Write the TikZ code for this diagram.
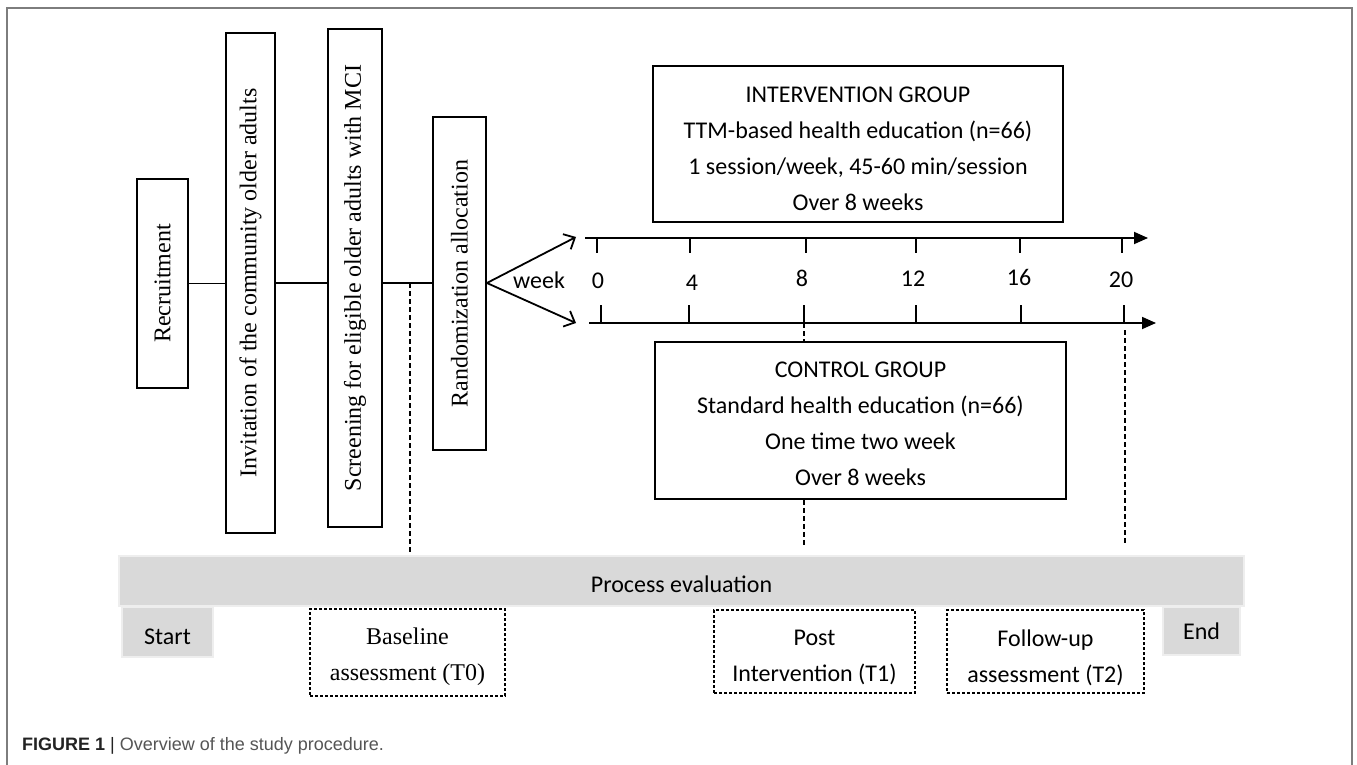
\documentclass[tikz,border=0pt]{standalone}
\usepackage{fontspec}
\setmainfont{Liberation Serif}
\newfontfamily\calib{Carlito}
\newfontfamily\capsans{Liberation Sans}
\usetikzlibrary{arrows.meta}
\definecolor{procgray}{RGB}{217,217,217}
\definecolor{procedge}{RGB}{238,238,238}
\definecolor{framegray}{RGB}{125,125,125}
\definecolor{capgray}{RGB}{85,85,85}
\definecolor{capdark}{RGB}{35,35,35}
\newcommand{\fsz}{\fontsize{24}{36}\selectfont}
\newcommand{\pushdn}[1]{\rule{0pt}{#1}}
\begin{document}
\begin{tikzpicture}[x=1pt,y=-1pt,
  vbox/.style={draw, line width=1.8pt, inner sep=0pt, font=\fsz},
  gbox/.style={draw, line width=1.6pt, inner sep=0pt, align=center, font=\calib\fsz},
  conn/.style={line width=1.8pt},
  tickline/.style={line width=1.6pt},
  tline/.style={line width=1.8pt, -{Triangle[length=14pt,width=12pt]}},
  barb/.style={line width=1.8pt, -{Straight Barb[length=9pt,width=17pt]}},
  dline/.style={line width=1.4pt, dash pattern=on 5pt off 3pt},
  lab/.style={font=\calib\fsz, inner sep=0pt, anchor=base},
  grey/.style={fill=procgray, draw=procedge, line width=1.5pt, inner sep=0pt, font=\calib\fsz, align=center},
  abox/.style={draw, line width=1.2pt, dash pattern=on 3pt off 2pt, inner sep=0pt, align=center, font=\fsz},
]
\useasboundingbox (0,0) rectangle (1357,765);
\draw[framegray, line width=1.5pt] (7,765) -- (7,8) -- (1352,8) -- (1352,765);

% vertical boxes
\node[vbox, minimum width=51, minimum height=209] (rec) at (162.5,283.5) {\rotatebox{90}{Recruitment}};
\node[vbox, minimum width=49, minimum height=500] (inv) at (250.5,283) {\rotatebox{90}{Invitation of the community older adults}};
\node[vbox, minimum width=54, minimum height=498] (scr) at (355,278) {\rotatebox{90}{Screening for eligible older adults with MCI}};
\node[vbox, minimum width=53, minimum height=333] (ran) at (459.5,283.5) {\rotatebox{90}{Randomization allocation}};

\draw[conn] (rec.east) -- (inv.west |- rec.east);
\draw[conn] (inv.east) -- (scr.west |- inv.east);
\draw[conn] (scr.east |- inv.east) -- (ran.west |- inv.east);

% split arrows
\coordinate (up) at (576,237);
\coordinate (dn) at (576,323);
\draw[barb] (ran.east |- inv.east) -- (up);
\draw[barb] (ran.east |- inv.east) -- (dn);
\node[lab] (week) at (539,288) {week};

% timelines
\coordinate (u0) at (585,238);
\coordinate (u1) at (1148,238);
\coordinate (l0) at (589,323);
\coordinate (l1) at (1156,323);
\draw[tline] (u0) -- (u1);
\draw[tline] (l0) -- (l1);
\foreach \xu/\xl/\xt/\yt/\lbl in {597/601/598/288/0, 690/689/692/290/4, 806/804/802/286/8, 916/916/913/286/12, 1020/1021/1019/285/16, 1122/1124/1121/287/20}{
  \draw[tickline] (\xu,238) -- (\xu,253);
  \draw[tickline] (\xl,305) -- (\xl,323);
  \node[lab] at (\xt,\yt) {\lbl};
}

% group boxes
\node[gbox, minimum width=410, minimum height=156] (int) at (858,144)
  {\pushdn{25pt}INTERVENTION GROUP\\TTM-based health education (n=66)\\1 session/week, 45-60 min/session\\Over 8 weeks};
\node[gbox, minimum width=411, minimum height=157] (ctl) at (860.5,420.5)
  {\pushdn{22pt}CONTROL GROUP\\Standard health education (n=66)\\One time two week\\Over 8 weeks};

% process bar and boxes
\node[grey, minimum width=1125, minimum height=50] (proc) at (681.5,581) {\pushdn{23.5pt}Process evaluation};
\node[grey, minimum width=91, minimum height=50] (start) at (167.5,632) {\pushdn{25pt}Start};
\node[grey, minimum width=77, minimum height=48] (end) at (1201.5,631) {End};

\node[abox, minimum width=195, minimum height=87] (base) at (407.5,652.5) {\pushdn{25.5pt}Baseline\\assessment (T0)};
\node[abox, minimum width=201, minimum height=83, font=\calib\fsz] (post) at (814.5,651.5) {\pushdn{27.5pt}Post\\Intervention (T1)};
\node[abox, minimum width=197, minimum height=83, font=\calib\fsz] (fol) at (1045.5,651.5) {\pushdn{29.5pt}Follow-up\\assessment (T2)};

% dashed connectors
\coordinate (d0a) at (410,283);
\coordinate (d0b) at (410,553);
\draw[dline] (d0a) -- (d0b);
\coordinate (d8a) at (804,323);
\draw[dline] (d8a) -- (ctl.north -| d8a);
\coordinate (d8b) at (804,546);
\draw[dline] (ctl.south -| d8a) -- (d8b);
\coordinate (d20a) at (1125,330);
\coordinate (d20b) at (1125,544);
\draw[dline] (d20a) -- (d20b);

% caption
\node[anchor=west, inner sep=0pt, font=\capsans\fontsize{18}{21}\selectfont] (cap) at (22,746)
  {\textcolor{capdark}{\bfseries FIGURE 1} \textcolor{capdark}{|} \textcolor{capgray}{Overview of the study procedure.}};
\end{tikzpicture}
\end{document}
